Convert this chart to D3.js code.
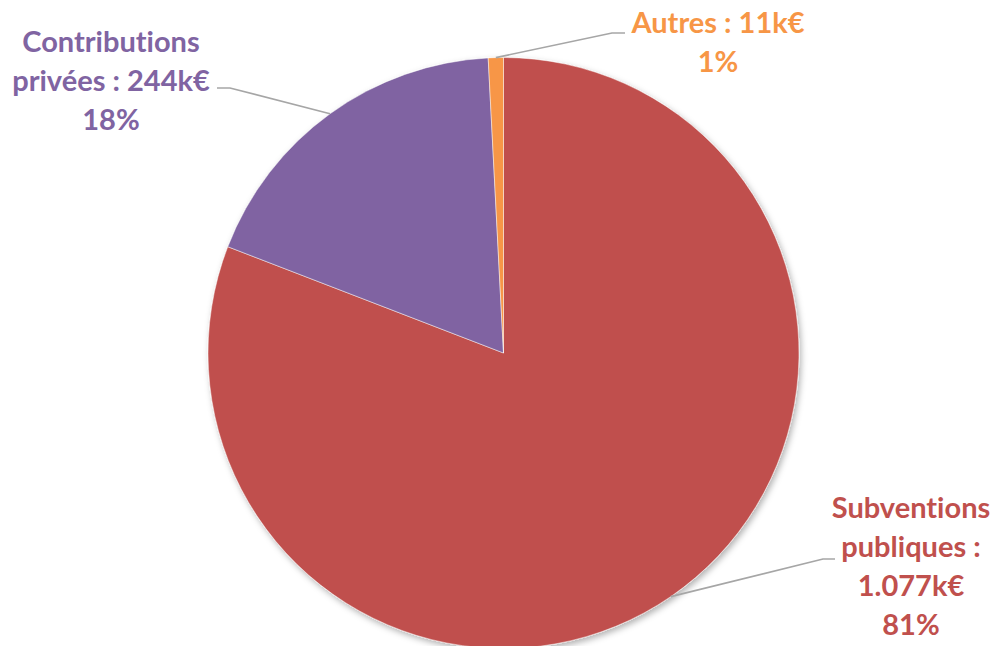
<!DOCTYPE html>
<html><head><meta charset="utf-8">
<script src="https://cdn.jsdelivr.net/npm/d3@7"></script>
<style>body{margin:0;background:#fff}svg{display:block}text{font-variant-ligatures:none}</style>
</head><body>
<svg id="c" width="1003" height="646"></svg>
<script>
const categories = ["Subventions publiques", "Contributions privées", "Autres"];
const values = [1077, 244, 11];
const valueLabels = ["1.077k€", "244k€", "11k€"];
const percentLabels = ["81%", "18%", "1%"];
const labelLines = [
  ["Subventions", "publiques :", "1.077k€", "81%"],
  ["Contributions", "privées : 244k€", "18%"],
  ["Autres : 11k€", "1%"]
];
const colors = ["#C0504D", "#8064A2", "#F79646"];

const W = 1003, H = 646, cx = 503.5, cy = 353, R = 295.5;
const svg = d3.select("#c");
const defs = svg.append("defs");
const f = defs.append("filter").attr("id","sh").attr("x","-10%").attr("y","-10%").attr("width","120%").attr("height","120%");
f.append("feDropShadow").attr("dx",2).attr("dy",3).attr("stdDeviation",3).attr("flood-color","#000").attr("flood-opacity",0.3);

const pie = d3.pie().sort(null).value(d => d)(values);
const arc = d3.arc().innerRadius(0).outerRadius(R);
const g = svg.append("g").attr("transform", `translate(${cx},${cy})`);
g.append("g").attr("filter","url(#sh)").selectAll("path").data(pie).join("path")
  .attr("d", arc).attr("fill", (d,i) => colors[i])
  .attr("stroke", "#fff").attr("stroke-width", 0.8).attr("stroke-opacity", 0.6);

const lab = [
  {elbow:[835,559], knee:[823,559], tx:911, ty:518},
  {elbow:[217,88], knee:[230,88], tx:111, ty:52},
  {elbow:[625,33], knee:[612,33], tx:718, ty:33}
];
const lh = 39;
pie.forEach((d,i) => {
  const a = (d.startAngle + d.endAngle)/2;
  const px = cx + R*Math.sin(a), py = cy - R*Math.cos(a);
  const L = lab[i];
  svg.append("polyline")
    .attr("points", [[px,py], L.knee, L.elbow].map(p => p.join(",")).join(" "))
    .attr("fill","none").attr("stroke","#A6A6A6").attr("stroke-width",1.6);
  const t = svg.append("text").attr("text-anchor","middle")
    .attr("font-family","Lato, 'Open Sans', sans-serif").attr("font-weight","bold")
    .attr("font-size", 29).attr("fill", colors[i]);
  labelLines[i].forEach((s,j) => {
    t.append("tspan").attr("x", L.tx).attr("y", L.ty + j*lh).text(s);
  });
});
</script>
</body></html>
